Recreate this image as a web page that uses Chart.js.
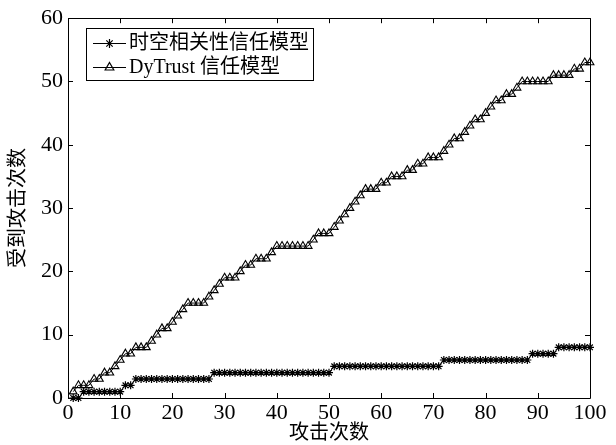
<!DOCTYPE html>
<html><head><meta charset="utf-8">
<script src="https://cdn.jsdelivr.net/npm/chart.js@4/dist/chart.umd.min.js"></script>
<style>html,body{margin:0;padding:0;background:#fff;}</style>
</head><body>
<canvas id="c" width="616" height="445" style="display:block;width:616px;height:445px"></canvas>
<script>
// ---- data ----
const attackCounts = [1,2,3,4,5,6,7,8,9,10,11,12,13,14,15,16,17,18,19,20,21,22,23,24,25,26,27,28,29,30,31,32,33,34,35,36,37,38,39,40,41,42,43,44,45,46,47,48,49,50,51,52,53,54,55,56,57,58,59,60,61,62,63,64,65,66,67,68,69,70,71,72,73,74,75,76,77,78,79,80,81,82,83,84,85,86,87,88,89,90,91,92,93,94,95,96,97,98,99,100];
const spatioTemporalHits = [
  0,0,1,1,1,1,1,1,1,1,
  2,2,3,3,3,3,3,3,3,3,
  3,3,3,3,3,3,3,4,4,4,
  4,4,4,4,4,4,4,4,4,4,
  4,4,4,4,4,4,4,4,4,4,
  5,5,5,5,5,5,5,5,5,5,
  5,5,5,5,5,5,5,5,5,5,
  5,6,6,6,6,6,6,6,6,6,
  6,6,6,6,6,6,6,6,7,7,
  7,7,7,8,8,8,8,8,8,8];
const dyTrustHits = [
  1,2,2,2,3,3,4,4,5,6,
  7,7,8,8,8,9,10,11,11,12,
  13,14,15,15,15,15,16,17,18,19,
  19,19,20,21,21,22,22,22,23,24,
  24,24,24,24,24,24,25,26,26,26,
  27,28,29,30,31,32,33,33,33,34,
  34,35,35,35,36,36,37,37,38,38,
  38,39,40,41,41,42,43,44,44,45,
  46,47,47,48,48,49,50,50,50,50,
  50,50,51,51,51,51,52,52,53,53];
const xTickValues = [0,10,20,30,40,50,60,70,80,90,100];
const yTickValues = [0,10,20,30,40,50,60];
const seriesNames = ['时空相关性信任模型', 'DyTrust 信任模型'];
const xTitle = '攻击次数';
const yTitle = '受到攻击次数';

const FONT = "'Liberation Serif', 'Noto Sans CJK SC', serif";

function toPoints(vals){ return attackCounts.map((x,i)=>({x:x, y:vals[i]})); }

const boxTicks = {
  id:'boxTicks',
  afterDraw(chart){
    const {ctx, chartArea:a, scales} = chart;
    const xs = scales.x, ys = scales.y;
    ctx.save();
    ctx.strokeStyle = '#000';
    ctx.lineWidth = 1;
    ctx.beginPath();
    ctx.rect(Math.round(a.left)+0.5, Math.round(a.top)+0.5, Math.round(a.right-a.left), Math.round(a.bottom-a.top));
    ctx.stroke();
    const L = 5;
    ctx.beginPath();
    xTickValues.forEach(v=>{
      const px = Math.round(xs.getPixelForValue(v))+0.5;
      ctx.moveTo(px, a.bottom); ctx.lineTo(px, a.bottom-L);
      ctx.moveTo(px, a.top); ctx.lineTo(px, a.top+L);
    });
    yTickValues.forEach(v=>{
      const py = Math.round(ys.getPixelForValue(v))+0.5;
      ctx.moveTo(a.left, py); ctx.lineTo(a.left+L, py);
      ctx.moveTo(a.right, py); ctx.lineTo(a.right-L, py);
    });
    ctx.stroke();
    ctx.restore();
  }
};

const boxLegend = {
  id:'boxLegend',
  afterDraw(chart){
    const ctx = chart.ctx;
    const bx = 86, by = 28, bw = 227, bh = 52;
    ctx.save();
    ctx.fillStyle = '#fff';
    ctx.fillRect(bx, by, bw, bh);
    ctx.strokeStyle = '#000';
    ctx.lineWidth = 1;
    ctx.strokeRect(bx+0.5, by+0.5, bw, bh);
    const rows = [43, 67];
    chart.data.datasets.forEach((ds, i)=>{
      const y = rows[i];
      ctx.strokeStyle = '#000';
      ctx.lineWidth = 1;
      ctx.beginPath();
      ctx.moveTo(93, y+0.5); ctx.lineTo(126, y+0.5);
      ctx.stroke();
      ctx.fillStyle = ds.pointBackgroundColor;
      ctx.strokeStyle = ds.pointBorderColor;
      ctx.lineWidth = 1.2;
      Chart.helpers.drawPoint(ctx, {
        pointStyle: ds.pointStyle, radius: ds.pointRadius + 0.5, borderWidth: 1.2, rotation: 0
      }, 109.5, y+0.5);
      ctx.fillStyle = '#000';
      ctx.font = "20px " + FONT;
      ctx.textBaseline = 'middle';
      ctx.textAlign = 'left';
      ctx.fillText(ds.label, 129, y+1);
    });
    ctx.restore();
  }
};

new Chart(document.getElementById('c'), {
  type:'line',
  data:{
    datasets:[
      {label:seriesNames[0], data:toPoints(spatioTemporalHits), borderColor:'#000', borderWidth:1,
       pointStyle:'star', pointRadius:4, pointBorderColor:'#000', pointBackgroundColor:'#000', pointBorderWidth:1.2,
       tension:0, clip:false},
      {label:seriesNames[1], data:toPoints(dyTrustHits), borderColor:'#000', borderWidth:1,
       pointStyle:'triangle', pointRadius:4.5, pointBorderColor:'#000', pointBackgroundColor:'rgba(255,255,255,0)', pointBorderWidth:1.1,
       tension:0, clip:false}
    ]
  },
  options:{
    responsive:false, animation:false, devicePixelRatio:1,
    layout:{padding:{left:0, right:26, top:13, bottom:0}},
    plugins:{legend:{display:false}, tooltip:{enabled:false}},
    elements:{point:{hoverRadius:0}},
    scales:{
      x:{type:'linear', min:0, max:100,
        afterFit(s){ s.height = 47; },
        afterBuildTicks(s){ s.ticks = xTickValues.map(v=>({value:v})); },
        grid:{display:false, drawTicks:false}, border:{display:false},
        ticks:{color:'#000', font:{family:FONT, size:22}, padding:2, maxRotation:0, autoSkip:false},
        title:{display:true, text:xTitle, color:'#000', font:{family:FONT, size:20, lineHeight:1.1}, padding:{top:0,bottom:0}}
      },
      y:{type:'linear', min:0, max:60,
        afterFit(s){ s.width = 68; },
        afterBuildTicks(s){ s.ticks = yTickValues.map(v=>({value:v})); },
        grid:{display:false, drawTicks:false}, border:{display:false},
        ticks:{color:'#000', font:{family:FONT, size:22}, padding:5},
        title:{display:true, text:yTitle, color:'#000', font:{family:FONT, size:20, lineHeight:1.1}, padding:{top:8,bottom:0}}
      }
    }
  },
  plugins:[boxTicks, boxLegend]
});
</script>
</body></html>
